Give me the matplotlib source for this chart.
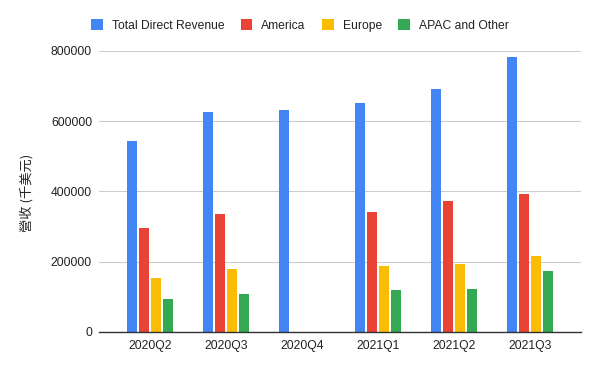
import matplotlib
matplotlib.use("Agg")
import numpy as np
import matplotlib.pyplot as plt
from matplotlib.patches import Patch

plt.rcParams['font.family'] = ['Liberation Sans', 'Noto Sans CJK TC', 'DejaVu Sans']

quarters = ["2020Q2", "2020Q3", "2020Q4", "2021Q1", "2021Q2", "2021Q3"]
total   = [545000, 627000, 633000, 653000, 692000, 784000]
america = [296000, 337000, 0, 341000, 373000, 393000]
europe  = [154000, 180000, 0, 188000, 194000, 217000]
apac    = [94000, 108000, 0, 120000, 122000, 174000]

series_names = ["Total Direct Revenue", "America", "Europe", "APAC and Other"]
colors = ["#4285F4", "#EA4335", "#FBBC04", "#34A853"]

fs = 8.7

fig = plt.figure(figsize=(6.0, 3.71), dpi=100)
ax = fig.add_axes([99/600, (371-332)/371, 482/600, 281/371])

x = np.arange(len(quarters))
step = 12/76
width = 10/76
for i, (vals, c) in enumerate(zip([total, america, europe, apac], colors)):
    ax.bar(x + (i - 1.5)*step, vals, width=width, color=c, zorder=3)

ax.set_xlim(-0.67, 5.67)
ax.set_ylim(0, 800000)
ax.set_yticks([0, 200000, 400000, 600000, 800000])
ax.set_yticklabels(["0", "200000", "400000", "600000", "800000"])
ax.set_xticks(x)
ax.set_xticklabels(quarters)
ax.tick_params(axis='both', length=0, labelsize=fs, labelcolor='#222222')
ax.tick_params(axis='y', pad=5)
ax.tick_params(axis='x', pad=6)
ax.grid(axis='y', color='#cccccc', linewidth=0.8, zorder=0)
for s in ['top', 'right', 'left']:
    ax.spines[s].set_visible(False)
ax.spines['bottom'].set_color('#333333')
ax.spines['bottom'].set_linewidth(1.0)
ax.spines['bottom'].set_zorder(4)

fig.text(27/600, 1 - 193/371, "營收 (千美元)", rotation=90, ha='center', va='center',
         fontsize=9.5, color='#222222', family=['Noto Sans CJK TC', 'DejaVu Sans'])

handles = [Patch(facecolor=c, edgecolor='none') for c in colors]
fig.legend(handles, series_names, loc='center', bbox_to_anchor=(300/600, 1 - 25.5/371),
           ncol=4, frameon=False, fontsize=fs, handlelength=0.95, handleheight=0.95,
           handletextpad=0.75, columnspacing=1.35, labelcolor='#222222')

fig.savefig("out.png", dpi=100)
